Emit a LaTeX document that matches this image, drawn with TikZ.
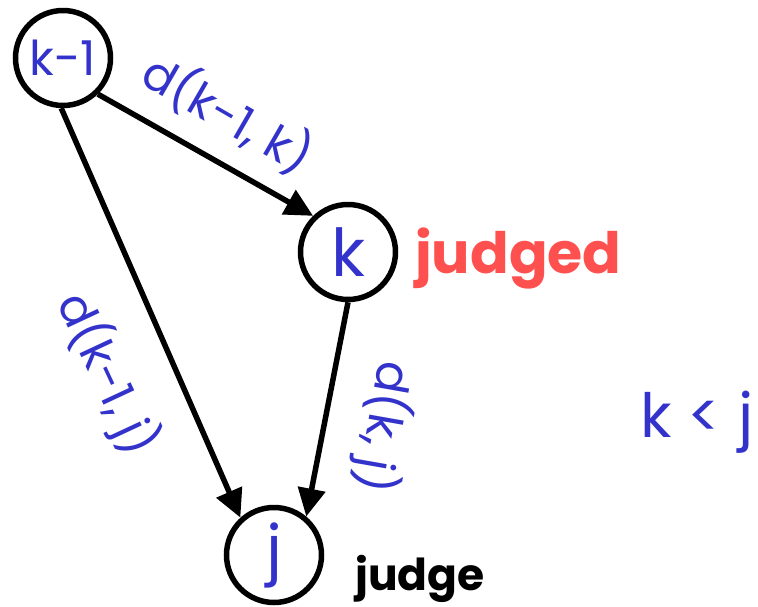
\documentclass[tikz,border=0pt]{standalone}
\usepackage{fontspec}
\setmainfont{Poppins}
\usetikzlibrary{arrows.meta}
\definecolor{lblue}{HTML}{3333CC}
\definecolor{lred}{HTML}{FF5050}
\begin{document}
\begin{tikzpicture}[x=1pt,y=-1pt,
  vert/.style={circle,draw=black,line width=5.5pt,minimum size=95pt,inner sep=0pt,text=lblue},
  edge/.style={line width=5.5pt,-{Triangle[length=28pt,width=27pt]}},
  elabel/.style={text=lblue,font=\fontsize{47}{47}\selectfont,inner sep=0pt}]
\useasboundingbox (0,0) rectangle (758,606);
\node[vert,font=\fontsize{48}{48}\selectfont] (km1) at (63,58) {k-1};
\node[vert,font=\fontsize{66}{66}\selectfont] (k) at (348,252) {k};
\node[vert,font=\fontsize{64}{64}\selectfont] (j) at (274,555) {j};
\draw[edge] (km1.314) -- (k.134);
\draw[edge] (km1.268) -- (j.132);
\draw[edge] (k.270) -- (j.50);
\node[elabel,rotate=-30] (l1) at (228,114) {d(k-1, k)};
\node[elabel,rotate=-65] (l2) at (107,374) {d(k-1, j)};
\node[elabel,rotate=-100] (l3) at (384,427) {d(k, j)};
\node[anchor=base west,inner sep=0pt,text=lred,font=\bfseries\fontsize{57}{57}\selectfont] (judged) at (415,273) {judged};
\node[anchor=base west,inner sep=0pt,text=black,font=\bfseries\fontsize{44}{44}\selectfont] (judge) at (355,590) {judge};
\node[anchor=base west,inner sep=0pt,text=lblue,font=\fontsize{61}{61}\selectfont] (cmp) at (640,437) {k < j};
\end{tikzpicture}
\end{document}
